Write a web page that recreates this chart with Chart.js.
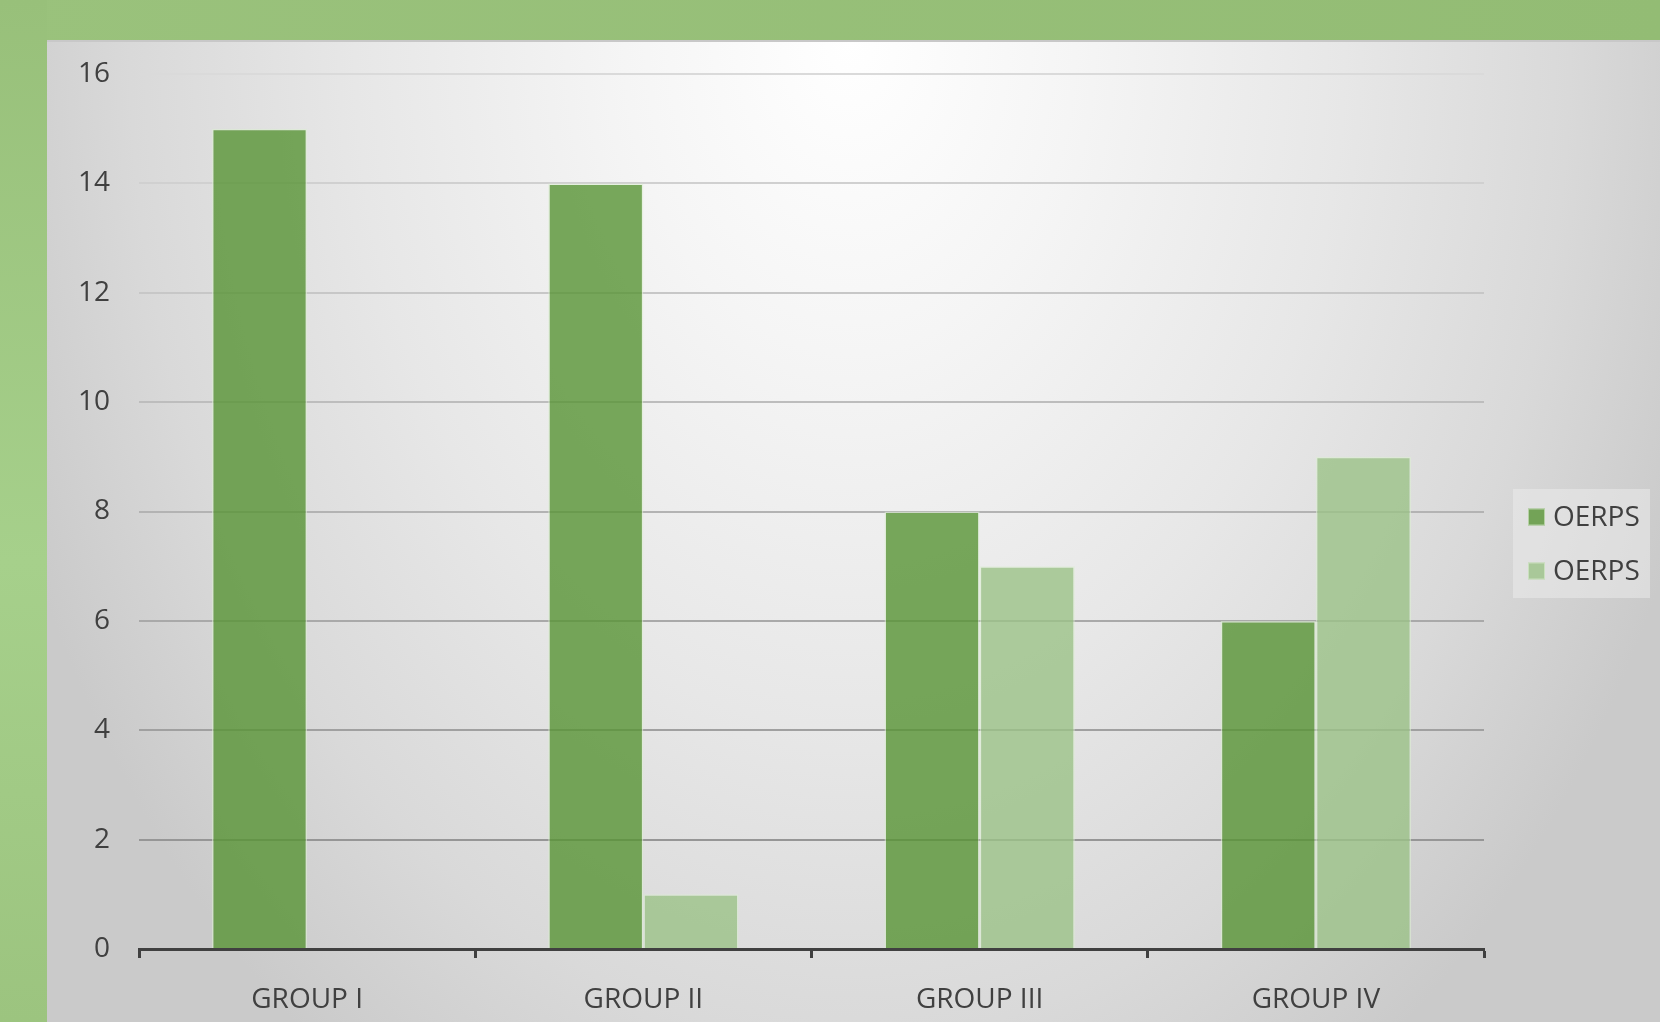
<!DOCTYPE html>
<html>
<head>
<meta charset="utf-8">
<script src="https://cdn.jsdelivr.net/npm/chart.js@4/dist/chart.umd.min.js"></script>
<style>
  html, body { margin: 0; padding: 0; background: #9cc47e; }
  canvas { display: block; }
</style>
</head>
<body>
<canvas id="c" width="1660" height="1022"></canvas>
<script>
const categories = ['GROUP I', 'GROUP II', 'GROUP III', 'GROUP IV'];
const seriesNames = ['OERPS', 'OERPS'];
const seriesDark = [15, 14, 8, 6];
const seriesLight = [0, 1, 7, 9];
const yMin = 0, yMax = 16, yStep = 2;

const TEXT = '#404040';
const FONT = "'Open Sans', 'Noto Sans', sans-serif";

const backgroundPlugin = {
  id: 'bg',
  beforeDraw(chart) {
    const ctx = chart.ctx;
    const W = chart.width, H = chart.height;
    ctx.save();
    // green frame
    let g = ctx.createLinearGradient(0, 0, 0, H);
    g.addColorStop(0, '#98c07a');
    g.addColorStop(0.55, '#a6d08b');
    g.addColorStop(1, '#9cc47f');
    ctx.fillStyle = g;
    ctx.fillRect(0, 0, W, H);
    let gt = ctx.createLinearGradient(0, 0, W, 0);
    gt.addColorStop(0, '#9ac27c');
    gt.addColorStop(1, '#93bc74');
    ctx.fillStyle = gt;
    ctx.fillRect(47, 0, W - 47, 40);
    // panel
    const px = 47, py = 40;
    ctx.beginPath();
    ctx.rect(px, py, W - px, H - py);
    ctx.clip();
    ctx.save();
    ctx.translate(850, 40);
    ctx.scale(900, 1250);
    const rg = ctx.createRadialGradient(0, 0, 0, 0, 0, 1);
    rg.addColorStop(0, '#ffffff');
    rg.addColorStop(0.25, '#f5f5f5');
    rg.addColorStop(0.55, '#e7e7e7');
    rg.addColorStop(0.8, '#d9d9d9');
    rg.addColorStop(1, '#cacaca');
    ctx.fillStyle = rg;
    ctx.fillRect(-2, -1, 4, 2);
    ctx.restore();
    ctx.fillStyle = '#c8c8c8';
    ctx.fillRect(px, py, W - px, 2);
    ctx.restore();
  },
  afterDraw(chart) {
    // legend
    const ctx = chart.ctx;
    ctx.save();
    ctx.fillStyle = 'rgba(235,235,235,0.55)';
    ctx.fillRect(1513, 489, 137, 109);
    const ys = [517, 571];
    chart.data.datasets.forEach((ds, i) => {
      ctx.fillStyle = ds.backgroundColor;
      ctx.fillRect(1528, ys[i] - 8.5, 17, 17);
      ctx.strokeStyle = 'rgba(225,240,215,0.6)';
      ctx.lineWidth = 1;
      ctx.strokeRect(1528.5, ys[i] - 8, 16, 16);
      ctx.fillStyle = TEXT;
      ctx.font = '28px ' + FONT;
      ctx.textBaseline = 'middle';
      ctx.textAlign = 'left';
      ctx.fillText(ds.label, 1553, ys[i] + 1);
    });
    ctx.restore();
  }
};

function gridColor(ctx) {
  const v = ctx.tick ? ctx.tick.value : 0;
  const t = (v - yMin) / (yMax - yMin); // 0 at bottom, 1 at top
  const c0 = 140, c1 = 218;
  const c = Math.round(c0 + (c1 - c0) * t);
  return `rgb(${c},${c},${c})`;
}

new Chart(document.getElementById('c'), {
  type: 'bar',
  data: {
    labels: categories,
    datasets: [
      {
        label: seriesNames[0],
        data: seriesDark,
        backgroundColor: 'rgba(88,148,52,0.8)',
        borderColor: 'rgba(220,238,210,0.6)',
        borderWidth: 1.5,
        categoryPercentage: 0.566,
        barPercentage: 1.0
      },
      {
        label: seriesNames[1],
        data: seriesLight,
        backgroundColor: 'rgba(155,194,135,0.8)',
        borderColor: 'rgba(220,238,210,0.6)',
        borderWidth: 1.5,
        categoryPercentage: 0.566,
        barPercentage: 1.0
      }
    ]
  },
  options: {
    responsive: false,
    animation: false,
    devicePixelRatio: 1,
    layout: { padding: { top: 74, right: 176, bottom: 0, left: 0 } },
    plugins: {
      legend: { display: false },
      tooltip: { enabled: false }
    },
    scales: {
      x: {
        offset: true,
        afterFit(scale) { scale.height = 73; },
        grid: {
          offset: true,
          drawOnChartArea: false,
          drawTicks: true,
          tickLength: 9,
          tickWidth: 3,
          tickColor: '#404040',
          color: '#404040'
        },
        border: { display: true, color: '#404040', width: 3 },
        ticks: {
          color: TEXT,
          font: { family: FONT, size: 28 },
          padding: 25,
          maxRotation: 0
        }
      },
      y: {
        min: yMin,
        max: yMax,
        afterFit(scale) { scale.width = 139; },
        grid: {
          drawTicks: false,
          color: gridColor,
          lineWidth: 2
        },
        border: { display: false },
        ticks: {
          stepSize: yStep,
          color: TEXT,
          font: { family: FONT, size: 28 },
          padding: 29
        }
      }
    }
  },
  plugins: [backgroundPlugin]
});
</script>
</body>
</html>
